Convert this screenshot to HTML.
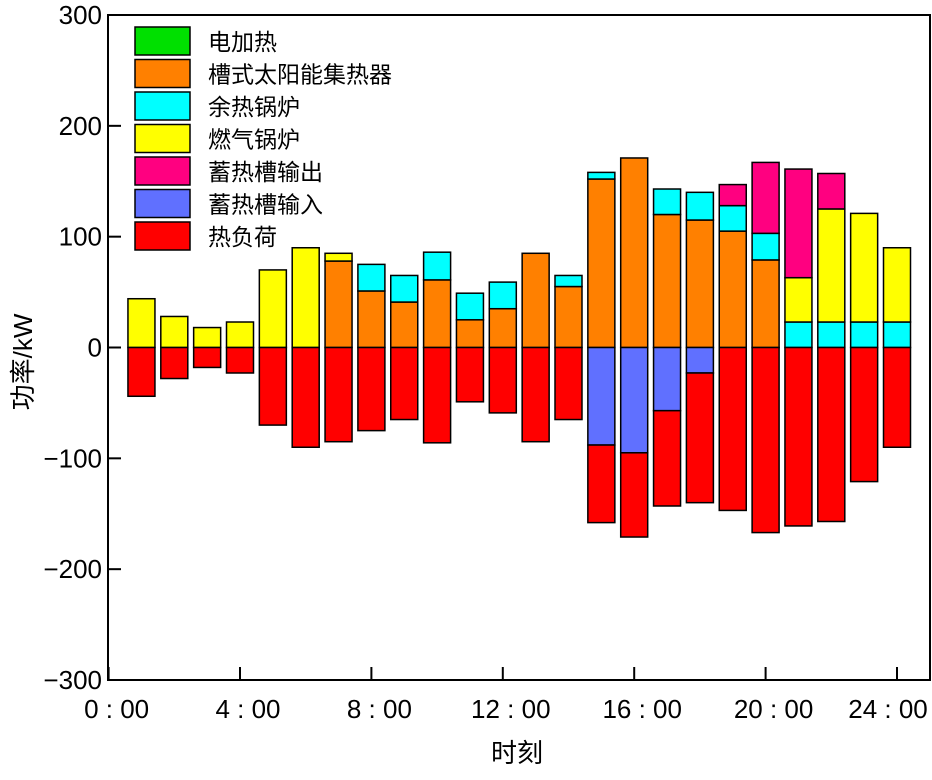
<!DOCTYPE html>
<html><head><meta charset="utf-8"><style>
body{margin:0;background:#fff;}
svg text{font-family:"Liberation Sans","Noto Sans CJK SC",sans-serif;}
</style></head><body>
<svg id="chart" width="932" height="775" xmlns="http://www.w3.org/2000/svg"></svg>
<script>
const hours=[1,2,3,4,5,6,7,8,9,10,11,12,13,14,15,16,17,18,19,20,21,22,23,24];
const elec=[0,0,0,0,0,0,0,0,0,0,0,0,0,0,0,0,0,0,0,0,0,0,0,0];
const trough=[0,0,0,0,0,0,78,51,41,61,25,35,85,55,152,171,120,115,105,79,0,0,0,0];
const waste=[0,0,0,0,0,0,0,24,24,25,24,24,0,10,6,0,23,25,23,24,23,23,23,23];
const gas=[44,28,18,23,70,90,7,0,0,0,0,0,0,0,0,0,0,0,0,0,40,102,98,67];
const storOut=[0,0,0,0,0,0,0,0,0,0,0,0,0,0,0,0,0,0,19,64,98,32,0,0];
const storIn=[0,0,0,0,0,0,0,0,0,0,0,0,0,0,-88,-95,-57,-23,0,0,0,0,0,0];
const load=[-44,-28,-18,-23,-70,-90,-85,-75,-65,-86,-49,-59,-85,-65,-70,-76,-86,-117,-147,-167,-161,-157,-121,-90];
const yTicks=[300,200,100,0,-100,-200,-300];
const yTickLabels=["300","200","100","0","\u2212100","\u2212200","\u2212300"];
const xTicks=[0,4,8,12,16,20,24];
const xTickLabels=["0 : 00","4 : 00","8 : 00","12 : 00","16 : 00","20 : 00","24 : 00"];
const seriesNames=["电加热","槽式太阳能集热器","余热锅炉","燃气锅炉","蓄热槽输出","蓄热槽输入","热负荷"];
const seriesColors=["#00e000","#ff8000","#00ffff","#ffff00","#ff0080","#6070ff","#ff0000"];

const L=108,R=930,T=15,B=680;
const y=v=>T+(300-v)/600*(B-T);
const x=h=>108.6+h*32.85;
const bw=27;
const svg=document.getElementById('chart');
const NS="http://www.w3.org/2000/svg";
function mk(tag,attrs){const e=document.createElementNS(NS,tag);for(const k in attrs)e.setAttribute(k,attrs[k]);svg.appendChild(e);return e;}
function rect(x0,y0,w,h,fill,name){const r=mk('rect',{x:x0,y:y0,width:w,height:h,fill:fill,stroke:'#000','stroke-width':1.5});


return r;}
const pos=[elec,trough,waste,gas,storOut];
hours.forEach((h,i)=>{
  let base=0;
  pos.forEach((s,k)=>{const v=s[i];if(v>0){rect(x(h)-bw/2,y(base+v),bw,y(base)-y(base+v),seriesColors[k],'bar-'+k+'-h'+h);base+=v;}});
  let nb=0;
  [[storIn,5],[load,6]].forEach(([s,k])=>{const v=s[i];if(v<0){rect(x(h)-bw/2,y(nb),bw,y(nb+v)-y(nb),seriesColors[k],'bar-'+k+'-h'+h);nb+=v;}});
});
const fr=mk('rect',{x:L,y:T,width:R-L,height:B-T,fill:'none',stroke:'#000','stroke-width':2});


yTicks.forEach((v,i)=>{
  mk('line',{x1:L,x2:L+13,y1:y(v),y2:y(v),stroke:'#000','stroke-width':2});
  const t=mk('text',{x:L-6,y:y(v)+9,'font-size':26,'text-anchor':'end'});t.textContent=yTickLabels[i];
  
  
});
xTicks.forEach((h,i)=>{
  mk('line',{x1:x(h),x2:x(h),y1:B,y2:B-13,stroke:'#000','stroke-width':2});
  const cx=Math.min(x(h)+8,888);
  const t=mk('text',{x:cx,y:B+38,'font-size':26,'text-anchor':'middle','xml:space':'preserve'});t.textContent=xTickLabels[i];
  
  
});
const xt=mk('text',{x:517,y:762,'font-size':26,'text-anchor':'middle'});xt.textContent='时刻';


const yt=mk('text',{x:0,y:0,'font-size':26,'text-anchor':'middle',transform:'translate(32,362) rotate(-90)'});yt.textContent='功率/kW';


seriesNames.forEach((n,i)=>{
  const yy=27+i*32.5;
  const b=mk('rect',{x:135,y:yy,width:55,height:28,fill:seriesColors[i],stroke:'#000','stroke-width':1.5});
  
  
  const t=mk('text',{x:208,y:yy+23,'font-size':23});t.textContent=n;
  
  
});
</script>
</body></html>
